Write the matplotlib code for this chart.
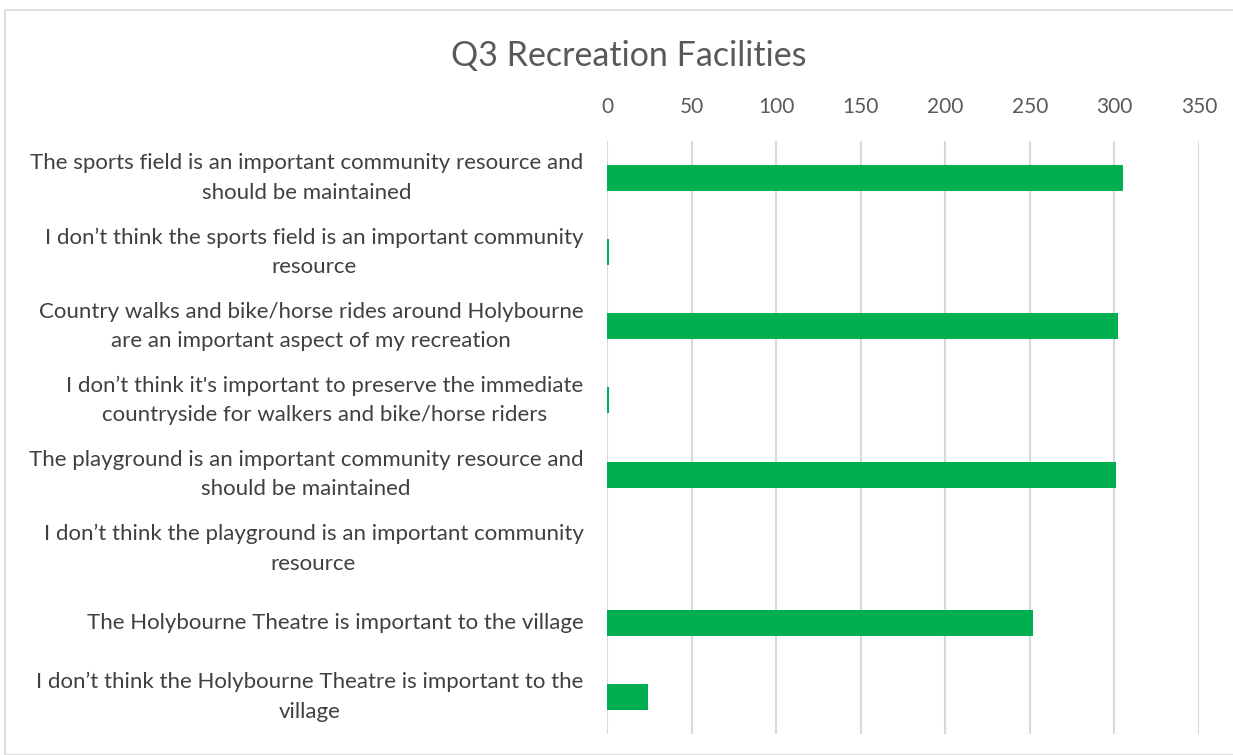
import matplotlib
matplotlib.use("Agg")
import matplotlib.pyplot as plt
import matplotlib.transforms as mtransforms
from matplotlib.patches import Rectangle

categories = [
    "The sports field is an important community resource and\nshould be maintained",
    "I don\u2019t think the sports field is an important community\nresource",
    "Country walks and bike/horse rides around Holybourne\nare an important aspect of my recreation",
    "I don\u2019t think it's important to preserve the immediate\ncountryside for walkers and bike/horse riders",
    "The playground is an important community resource and\nshould be maintained",
    "I don\u2019t think the playground is an important community\nresource",
    "The Holybourne Theatre is important to the village",
    "I don\u2019t think the Holybourne Theatre is important to the\nvillage",
]
values = [305, 1, 302, 1, 301, 0, 252, 24]
x_ticks = [0, 50, 100, 150, 200, 250, 300, 350]
title = "Q3 Recreation Facilities"

plt.rcParams['font.family'] = ['Lato', 'DejaVu Sans']

W, H = 1233, 755
fig = plt.figure(figsize=(W/100, H/100), dpi=100)
fig.patches.append(Rectangle((5/W, 0), 1.0, 1 - 10/H, transform=fig.transFigure,
                             fill=False, edgecolor='#d9d9d9', linewidth=1.2))

left, right, top, bottom = 607, 1199, 141, 734
ax = fig.add_axes([left/W, 1 - bottom/H, (right-left)/W, (bottom-top)/H])

y = list(range(len(categories)))
ax.barh(y, values, height=0.35, color='#00b050', linewidth=0, zorder=3)
ax.set_ylim(len(categories) - 0.5, -0.5)
ax.set_xlim(0, 350)
ax.set_xticks(x_ticks)
ax.set_xticklabels([str(t) for t in x_ticks])
ax.xaxis.tick_top()
ax.tick_params(axis='x', length=0, pad=17, labelsize=15, labelcolor='#595959')
ax.set_yticks(y)
ax.set_yticklabels(categories, fontsize=16, color='#404040', linespacing=1.58,
                   multialignment='center')
shift = mtransforms.ScaledTranslation(0, -2.5/100, fig.dpi_scale_trans)
for lbl in ax.get_yticklabels():
    lbl.set_verticalalignment('center')
    lbl.set_transform(lbl.get_transform() + shift)
ax.tick_params(axis='y', length=0, pad=17)
ax.grid(axis='x', color='#d9d9d9', linewidth=1.5, zorder=0)
for s in ax.spines.values():
    s.set_visible(False)

fig.text(629/W, 1 - 56/H, title, ha='center', va='center', fontsize=24.5, color='#595959')

fig.savefig('out.png', dpi=100)
